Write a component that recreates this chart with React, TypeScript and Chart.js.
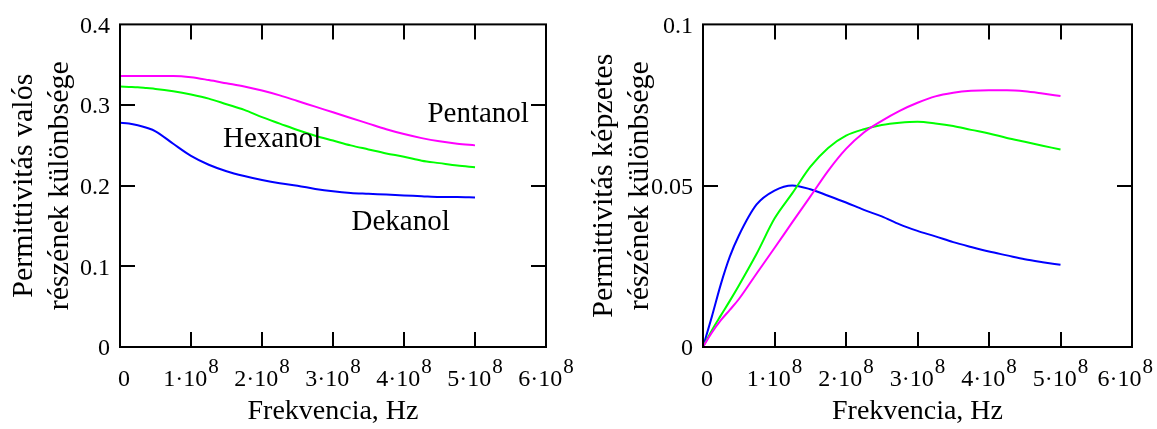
import React, { useEffect, useRef } from 'react';
import { Chart, registerables } from 'chart.js';

Chart.register(...registerables);

const FONT = "'Liberation Serif', 'Times New Roman', Times, serif";

// Frequency samples (Hz)
const frequencyHz = [
  0, 0.125e8, 0.25e8, 0.375e8, 0.5e8, 0.75e8, 1.0e8, 1.25e8, 1.5e8, 1.75e8, 2.0e8, 2.25e8,
  2.5e8, 2.75e8, 3.0e8, 3.25e8, 3.5e8, 3.75e8, 4.0e8, 4.25e8, 4.5e8, 4.75e8, 5.0e8,
];

// Left chart: real part difference
const pentanolReal = [
  0.336, 0.336, 0.336, 0.336, 0.336, 0.336, 0.3345, 0.331, 0.327, 0.323, 0.318, 0.312,
  0.305, 0.298, 0.291, 0.284, 0.277, 0.27, 0.264, 0.259, 0.255, 0.252, 0.25,
];
const hexanolReal = [
  0.323, 0.3225, 0.322, 0.321, 0.32, 0.317, 0.313, 0.308, 0.301, 0.294, 0.285, 0.277,
  0.269, 0.262, 0.256, 0.25, 0.245, 0.24, 0.236, 0.231, 0.228, 0.225, 0.223,
];
const dekanolReal = [
  0.278, 0.2772, 0.275, 0.2718, 0.2675, 0.252, 0.237, 0.226, 0.218, 0.212, 0.207, 0.203,
  0.2, 0.196, 0.193, 0.191, 0.19, 0.189, 0.188, 0.187, 0.186, 0.186, 0.1855,
];

// Right chart: imaginary part difference
const pentanolImag = [
  0, 0.0045, 0.0083, 0.0115, 0.0148, 0.0228, 0.0307, 0.0387, 0.0466, 0.0546, 0.0614, 0.0665,
  0.0701, 0.0732, 0.0757, 0.0777, 0.0788, 0.0794, 0.0796, 0.0796, 0.0793, 0.0786, 0.0778,
];
const hexanolImag = [
  0, 0.0052, 0.0098, 0.0143, 0.019, 0.0289, 0.0398, 0.0477, 0.0558, 0.0617, 0.0655, 0.0675,
  0.0688, 0.0695, 0.0698, 0.0693, 0.0685, 0.0673, 0.0662, 0.0648, 0.0636, 0.0624, 0.0612,
];
const dekanolImag = [
  0, 0.0095, 0.0195, 0.028, 0.0345, 0.0442, 0.0485, 0.0501, 0.0489, 0.0469, 0.0448, 0.0425,
  0.0405, 0.038, 0.036, 0.0343, 0.0325, 0.031, 0.0296, 0.0284, 0.0272, 0.0263, 0.0255,
];

const seriesNames = ['Pentanol', 'Hexanol', 'Dekanol'];
const seriesColors = ['#FF00FF', '#00FF00', '#0000FF'];

// Axis ticks
const xTickValues = [0, 1e8, 2e8, 3e8, 4e8, 5e8, 6e8];
const xTickMantissa = ['0', '1·10', '2·10', '3·10', '4·10', '5·10', '6·10'];
const xTickExponent = ['', '8', '8', '8', '8', '8', '8'];

const leftYTicks = [0, 0.1, 0.2, 0.3, 0.4];
const leftYTickLabels = ['0', '0.1', '0.2', '0.3', '0.4'];
const rightYTicks = [0, 0.05, 0.1];
const rightYTickLabels = ['0', '0.05', '0.1'];

const xTitle = 'Frekvencia, Hz';
const leftYTitle = ['Permittivitás valós', 'részének különbsége'];
const rightYTitle = ['Permittivitás képzetes', 'részének különbsége'];

// Curve name labels on the left chart (data coordinates: left edge / baseline)
const annotationNames = ['Pentanol', 'Hexanol', 'Dekanol'];
const annotationX = [4.33e8, 1.45e8, 3.26e8];
const annotationY = [0.279, 0.248, 0.145];

const framePlugin = {
  id: 'frame',
  afterDatasetsDraw(chart: any, _args: any, opts: any) {
    const { ctx, chartArea: a, scales } = chart;
    const xs = scales.x;
    const ys = scales.y;
    ctx.save();
    ctx.strokeStyle = '#000';
    ctx.lineWidth = 2;
    ctx.strokeRect(a.left, a.top, a.right - a.left, a.bottom - a.top);
    const T = 15;
    ctx.beginPath();
    for (const v of xTickValues) {
      const px = Math.round(xs.getPixelForValue(v));
      if (px <= a.left + 1 || px >= a.right - 1) continue;
      ctx.moveTo(px, a.top);
      ctx.lineTo(px, a.top + T);
      ctx.moveTo(px, a.bottom);
      ctx.lineTo(px, a.bottom - T);
    }
    for (const v of opts.yTicks as number[]) {
      const py = Math.round(ys.getPixelForValue(v));
      if (py <= a.top + 1 || py >= a.bottom - 1) continue;
      ctx.moveTo(a.left, py);
      ctx.lineTo(a.left + T, py);
      ctx.moveTo(a.right, py);
      ctx.lineTo(a.right - T, py);
    }
    ctx.stroke();

    // x tick labels with superscript exponents
    ctx.fillStyle = '#000';
    ctx.textBaseline = 'alphabetic';
    ctx.textAlign = 'left';
    const mainFont = `24px ${FONT}`;
    const supFont = `21px ${FONT}`;
    const maxRight = chart.width - 4;
    xTickValues.forEach((v, i) => {
      const px = xs.getPixelForValue(v);
      ctx.font = mainFont;
      const mw = ctx.measureText(xTickMantissa[i]).width;
      ctx.font = supFont;
      const ew = xTickExponent[i] ? ctx.measureText(xTickExponent[i]).width + 1 : 0;
      const total = mw + ew;
      let left = px - total / 2;
      if (left < a.left - 2) left = a.left - 2;
      if (left + total > maxRight) left = maxRight - total;
      ctx.font = mainFont;
      ctx.fillText(xTickMantissa[i], left, a.bottom + 38.5);
      if (xTickExponent[i]) {
        ctx.font = supFont;
        ctx.fillText(xTickExponent[i], left + mw + 1, a.bottom + 25.5);
      }
    });

    if (opts.annotations) {
      ctx.font = `29px ${FONT}`;
      annotationNames.forEach((name, i) => {
        ctx.fillText(name, xs.getPixelForValue(annotationX[i]), ys.getPixelForValue(annotationY[i]));
      });
    }
    ctx.restore();
  },
};

type PanelSpec = {
  series: number[][];
  yMax: number;
  yTicks: number[];
  yLabels: string[];
  yTitle: string[];
  yWidth: number;
  padRight: number;
  annotations: boolean;
};

function buildChart(canvas: HTMLCanvasElement, p: PanelSpec) {
  const datasets = p.series.map((vals, i) => ({
    label: seriesNames[i],
    data: frequencyHz.map((f, j) => ({ x: f, y: vals[j] })),
    borderColor: seriesColors[i],
    backgroundColor: seriesColors[i],
    borderWidth: 2,
    pointRadius: 0,
    fill: false,
    cubicInterpolationMode: 'monotone' as const,
  }));
  return new Chart(canvas, {
    type: 'line',
    data: { datasets },
    options: {
      animation: false,
      responsive: false,
      devicePixelRatio: 1,
      layout: { padding: { left: 0, right: p.padRight, top: 16, bottom: 0 } },
      plugins: {
        legend: { display: false },
        tooltip: { enabled: false },
        // @ts-ignore
        frame: { yTicks: p.yTicks, annotations: p.annotations },
      },
      scales: {
        x: {
          type: 'linear',
          min: 0,
          max: 6e8,
          grid: { display: false, drawTicks: false },
          border: { display: false },
          ticks: { display: false },
          title: {
            display: true,
            text: xTitle,
            color: '#000',
            font: { family: FONT, size: 28, lineHeight: 1.2 },
            padding: { top: 0, bottom: 1 },
          },
          afterFit: (s: any) => {
            s.height = 82;
          },
        },
        y: {
          type: 'linear',
          min: 0,
          max: p.yMax,
          grid: { display: false, drawTicks: false },
          border: { display: false },
          afterBuildTicks: (s: any) => {
            s.ticks = p.yTicks.map((v) => ({ value: v }));
          },
          ticks: {
            color: '#000',
            font: { family: FONT, size: 24 },
            padding: 10,
            labelOffset: 2,
            callback: (v: any) => {
              const k = p.yTicks.indexOf(Number(v));
              return k >= 0 ? p.yLabels[k] : '';
            },
          },
          title: {
            display: true,
            text: p.yTitle,
            color: '#000',
            font: { family: FONT, size: 30, lineHeight: 1.2 },
            padding: { top: 6, bottom: 0 },
          },
          afterFit: (s: any) => {
            s.width = p.yWidth;
          },
        },
      },
    } as any,
    plugins: [framePlugin],
  });
}

export default function App() {
  const leftRef = useRef<HTMLCanvasElement>(null);
  const rightRef = useRef<HTMLCanvasElement>(null);

  useEffect(() => {
    const c1 = buildChart(leftRef.current!, {
      series: [pentanolReal, hexanolReal, dekanolReal],
      yMax: 0.4,
      yTicks: leftYTicks,
      yLabels: leftYTickLabels,
      yTitle: leftYTitle,
      yWidth: 120,
      padRight: 34,
      annotations: true,
    });
    const c2 = buildChart(rightRef.current!, {
      series: [pentanolImag, hexanolImag, dekanolImag],
      yMax: 0.1,
      yTicks: rightYTicks,
      yLabels: rightYTickLabels,
      yTitle: rightYTitle,
      yWidth: 123,
      padRight: 25,
      annotations: false,
    });
    return () => {
      c1.destroy();
      c2.destroy();
    };
  }, []);

  return (
    <div
      style={{
        position: 'absolute',
        left: 0,
        top: 0,
        width: 1157,
        height: 429,
        background: '#fff',
        overflow: 'hidden',
      }}
    >
      <canvas
        ref={leftRef}
        width={580}
        height={429}
        style={{ position: 'absolute', left: 0, top: 0, width: 580, height: 429 }}
      />
      <canvas
        ref={rightRef}
        width={577}
        height={429}
        style={{ position: 'absolute', left: 580, top: 0, width: 577, height: 429 }}
      />
    </div>
  );
}
